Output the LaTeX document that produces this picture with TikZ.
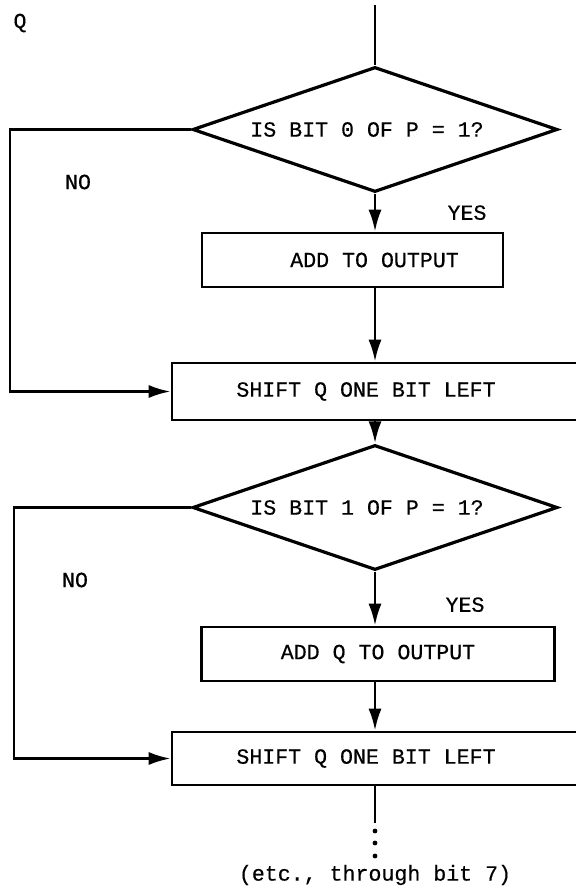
\documentclass[tikz,border=0pt]{standalone}
\usepackage{fontspec}
\setmainfont[FakeBold=0.4]{Liberation Mono}
\usepackage{tikz}
\usetikzlibrary{shapes.geometric,arrows.meta}
\tikzstyle{decision} = [diamond, draw, aspect=2.92, line width=1.6pt, minimum width=182.5pt, minimum height=62.5pt, inner sep=0pt]
\tikzstyle{block} = [rectangle, draw, line width=1.3pt, minimum height=27pt, inner sep=0pt]
\tikzstyle{line} = [draw, line width=1.4pt, -{Latex[length=11pt,width=6.5pt]}]
\tikzstyle{plain} = [draw, line width=1.4pt]

\begin{document}
\begin{tikzpicture}[node distance = 60pt, font=\fontsize{10.8}{13}\selectfont]
    \useasboundingbox (0,0) rectangle (288pt,-446pt);
    % Place nodes
    \node (q) at (10pt,-11.5pt) {Q};
    \coordinate (start) at (187.5pt,-2.5pt);
    \node [decision] (test0) at (187.5pt,-64.75pt) {IS BIT 0 OF P = 1?\hspace*{8pt}};
    \node [block, below of=test0, node distance=65.25pt, xshift=-11.25pt, minimum width=150.5pt] (add0) {\hspace*{22pt}ADD TO OUTPUT};
    \node [block, below of=test0, node distance=131pt, minimum width=203pt, minimum height=28.5pt] (shift0) {SHIFT Q ONE BIT LEFT\hspace*{9pt}};
    \node [decision, below of=shift0, node distance=58pt] (test1) {IS BIT 1 OF P = 1?\hspace*{8pt}};
    \node [block, below of=test1, node distance=73.25pt, xshift=1.5pt, minimum width=176.5pt] (add1) {ADD Q TO OUTPUT};
    \node [block, below of=test1, node distance=125.5pt, minimum width=203pt, minimum height=26.5pt] (shift1) {SHIFT Q ONE BIT LEFT\hspace*{9pt}};
    \node [below of=shift1, node distance=58.25pt] (etc) {(etc., through bit 7)};
    \node (no0) at (39pt,-91pt) {NO};
    \node (no1) at (37.5pt,-290pt) {NO};
    \coordinate (loop0) at (5pt,-64.75pt);
    \coordinate (loop1) at (7pt,-253.75pt);
    \coordinate (cont) at (187.5pt,-411.5pt);

    % Draw edges
    \path [plain] (start) -- (test0.north);
    \path [line] (test0.south) -- node [xshift=46pt] {YES} (test0.south |- add0.north);
    \path [line] (test0.south |- add0.south) -- (test0.south |- shift0.north);
    \path [line] (test0.west) -| (loop0) |- (shift0.west);
    \path [line] (shift0.south) -- (test1.north);
    \path [line] (test1.south) -- node [xshift=45pt, yshift=-3pt] {YES} (test1.south |- add1.north);
    \path [line] (test1.south |- add1.south) -- (test1.south |- shift1.north);
    \path [line] (test1.west) -| (loop1) |- (shift1.west);
    \path [plain] (shift1.south) -- (cont);
    \foreach \y in {415.5,421.5,428}
        \fill (187.5pt,-\y pt) circle (1.2pt);
\end{tikzpicture}
\end{document}
